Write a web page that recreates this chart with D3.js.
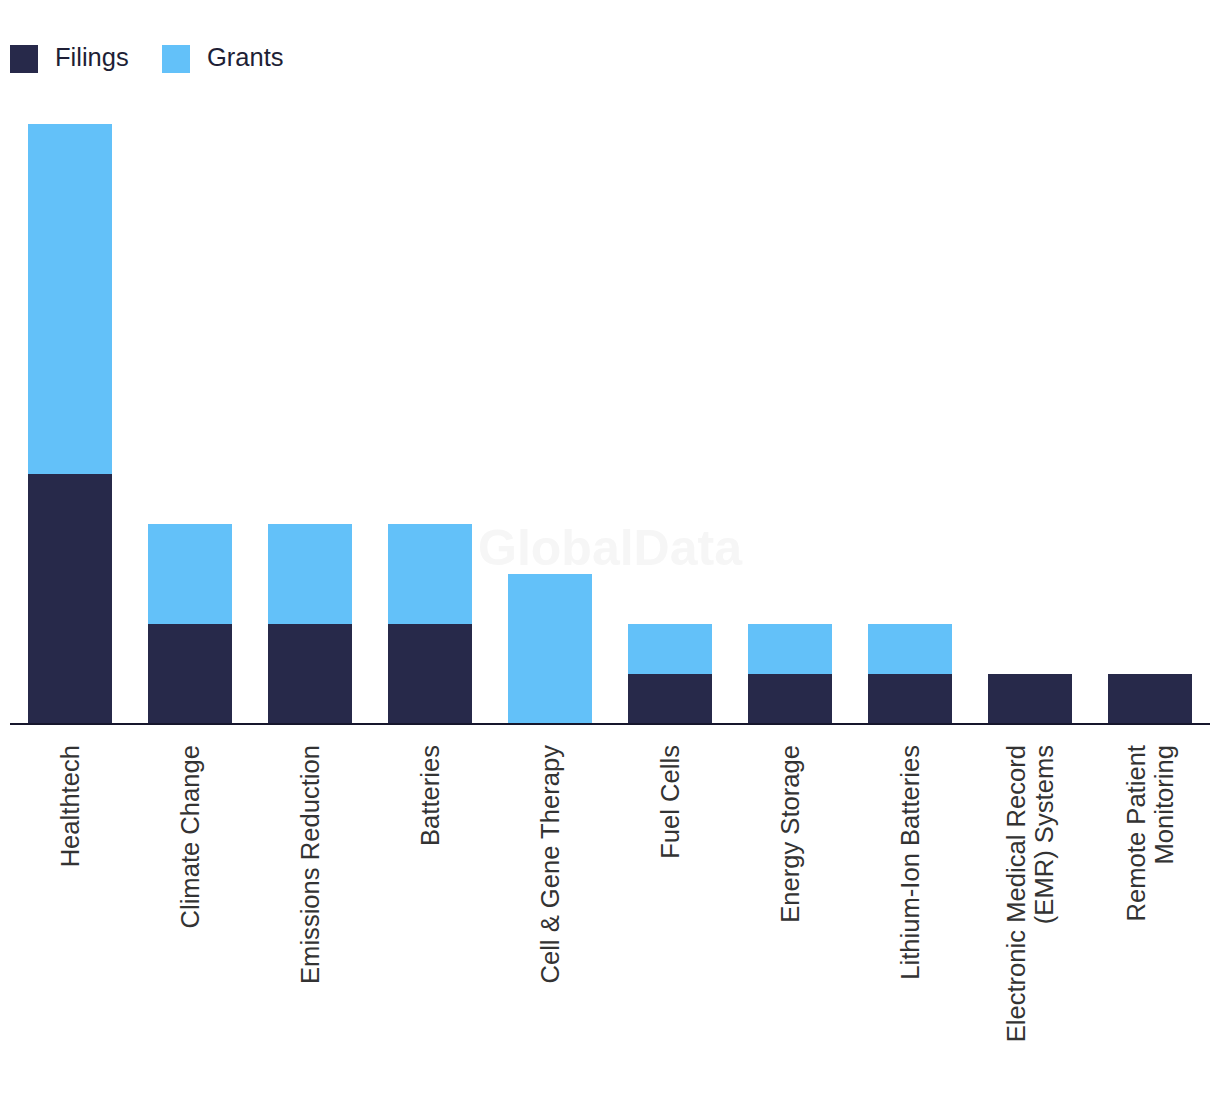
<!DOCTYPE html>
<html><head><meta charset="utf-8">
<script src="https://cdn.jsdelivr.net/npm/d3@7"></script>
<style>body{margin:0;background:#fff}svg{display:block}</style>
</head><body>
<svg id="chart" width="1220" height="1094"></svg>
<script>
const categories = [["Healthtech"],["Climate Change"],["Emissions Reduction"],["Batteries"],["Cell & Gene Therapy"],["Fuel Cells"],["Energy Storage"],["Lithium-Ion Batteries"],["Electronic Medical Record","(EMR) Systems"],["Remote Patient","Monitoring"]];
const filings = [5,2,2,2,0,1,1,1,1,1];
const grants  = [7,2,2,2,3,1,1,1,0,0];
const seriesNames = ["Filings","Grants"];
const colors = ["#27294a","#63c1f9"];

const svg = d3.select("#chart");
const keys = categories.map(c => c.join(" "));
const x = d3.scaleBand().domain(keys).range([10,1210]).paddingInner(0.3).paddingOuter(0.15);
const y = d3.scaleLinear().domain([0,12]).range([724,124]);

// watermark
svg.append("text").attr("x",610).attr("y",565).attr("text-anchor","middle")
  .attr("font-family","Liberation Sans, Arial, sans-serif").attr("font-weight","bold")
  .attr("font-size",50).attr("fill","#f6f6f6").text("GlobalData");

const data = keys.map((k,i)=>({key:k, Filings:filings[i], Grants:grants[i]}));
const stack = d3.stack().keys(seriesNames)(data);
svg.append("g").attr("shape-rendering","crispEdges").selectAll("g").data(stack).join("g").attr("fill",(d,i)=>colors[i])
  .selectAll("rect").data(d=>d).join("rect")
  .attr("x",d=>x(d.data.key)).attr("width",x.bandwidth())
  .attr("y",d=>y(d[1])).attr("height",d=>y(d[0])-y(d[1]));

// axis line
svg.append("line").attr("x1",10).attr("x2",1210).attr("y1",724).attr("y2",724)
  .attr("stroke","#16162c").attr("stroke-width",2);

// labels
const fs = 25.6, lh = 27.5;
categories.forEach((lines,i)=>{
  const cx = x(keys[i]) + x.bandwidth()/2;
  const n = lines.length;
  const t = svg.append("text").attr("transform",`translate(${cx},745) rotate(-90)`)
    .attr("text-anchor","end").attr("font-family","Liberation Sans, Arial, sans-serif")
    .attr("font-size",fs).attr("fill","#333");
  lines.forEach((ln,j)=>{
    t.append("tspan").attr("x",0).attr("y", (j-(n-1)/2)*lh + 0.35*fs).text(ln);
  });
});

// legend
const legX = [10,162];
seriesNames.forEach((s,i)=>{
  svg.append("rect").attr("x",legX[i]).attr("y",45).attr("width",28).attr("height",28).attr("fill",colors[i]);
  svg.append("text").attr("x",legX[i]+45).attr("y",66).attr("font-family","Liberation Sans, Arial, sans-serif")
    .attr("font-size",25.5).attr("fill","#1e1f36").text(s);
});
</script>
</body></html>
